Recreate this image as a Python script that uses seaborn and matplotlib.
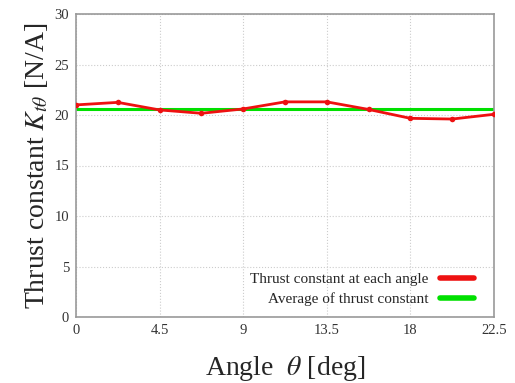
import numpy as np
import pandas as pd
import matplotlib
matplotlib.use('Agg')
import matplotlib.pyplot as plt
import seaborn as sns

# measured thrust constant per angle
angles = [0, 2.25, 4.5, 6.75, 9, 11.25, 13.5, 15.75, 18, 20.25, 22.5]
thrust = [21.0, 21.25, 20.5, 20.17, 20.6, 21.3, 21.3, 20.55, 19.67, 19.6, 20.07]
x_ticks = [0, 4.5, 9, 13.5, 18, 22.5]
x_tick_labels = ['0', '4.5', '9', '13.5', '18', '22.5']
y_ticks = [0, 5, 10, 15, 20, 25, 30]

sns.set_style('whitegrid')
plt.rcParams['font.family'] = ['Liberation Serif', 'DejaVu Serif']
plt.rcParams['mathtext.fontset'] = 'stix'

df = pd.DataFrame({'angle': angles, 'thrust': thrust})
avg = float(np.mean(thrust))
df_avg = pd.DataFrame({'angle': [angles[0], angles[-1]], 'thrust': [avg, avg]})

fig = plt.figure(figsize=(5.15, 3.83), dpi=100)
ax = fig.add_axes([76 / 515, 1 - 317 / 383, (494 - 76) / 515, (317 - 14) / 383])

sns.lineplot(data=df_avg, x='angle', y='thrust', ax=ax, color='#00e000', lw=2.2,
             label='Average of thrust constant', zorder=2)
sns.lineplot(data=df, x='angle', y='thrust', ax=ax, color='#ee1111', lw=2,
             marker='o', markersize=4, markeredgewidth=0,
             label='Thrust constant at each angle', zorder=3)

ax.set_xlim(0, 22.5)
ax.set_ylim(0, 30)
ax.set_xticks(x_ticks)
ax.set_xticklabels(x_tick_labels)
ax.set_yticks(y_ticks)
ax.grid(True, color='#cccccc', linestyle=':', linewidth=0.8)
for s in ax.spines.values():
    s.set_color('#999999')
    s.set_linewidth(1.2)
ax.tick_params(axis='both', labelsize=10.5, labelcolor='#333333', length=0, pad=5)

ax.set_xlabel(r'Angle  $\theta$ [deg]', fontsize=20, labelpad=12)
ax.set_ylabel(r'Thrust constant $K_{t\theta}$ [N/A]', fontsize=20, labelpad=3)

handles, labels = ax.get_legend_handles_labels()
leg = ax.legend(handles[::-1], labels[::-1], loc='lower right',
                bbox_to_anchor=(0.978, 0.0), frameon=False,
                markerfirst=False, fontsize=11, handlelength=2.2,
                borderaxespad=0.3, labelspacing=0.4)
for h in leg.legend_handles:
    h.set_linewidth(4)
    h.set_marker('')

fig.savefig('out.png', dpi=100)
